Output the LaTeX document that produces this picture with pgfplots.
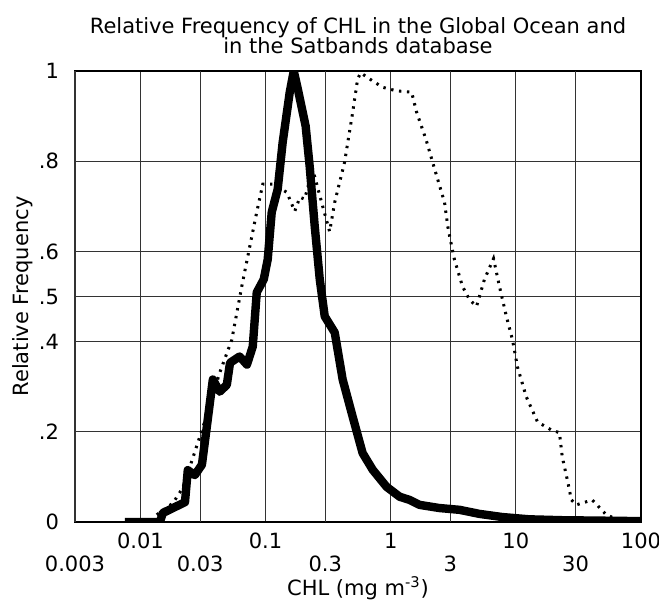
\documentclass[border=0pt]{standalone}
\usepackage{pgfplots}
\pgfplotsset{compat=1.18}
\usepackage{fontspec}
\setmainfont{DejaVu Sans}
\begin{document}
\begin{tikzpicture}
\begin{axis}[
  scale only axis, width=283pt, height=225.5pt,
  xmode=log, xmin=0.003, xmax=100, ymin=0, ymax=1,
  font=\fontsize{10.5}{12}\selectfont,
  /pgf/number format/assume math mode=true,
  xtick={0.01,0.1,1,10,100},
  xticklabels={0.01,0.1,1,10,100},
  extra x ticks={0.003,0.03,0.3,3,30},
  extra x tick labels={0.003,0.03,0.3,3,30},
  extra x tick style={grid=major, xticklabel style={yshift=-11.5pt}},
  xminorticks=false,
  ytick={0,0.2,0.4,0.5,0.6,0.8,1},
  yticklabels={0,.2,.4,.5,.6,.8,1},
  major tick length=0pt,
  grid=major,
  major grid style={black!80, line width=0.55pt},
  axis line style={line width=0.7pt},
  xticklabel style={yshift=-2pt},
  yticklabel style={xshift=-4.5pt},
  xlabel={CHL (mg m\textsuperscript{-3})},
  ylabel={Relative Frequency},
  xlabel style={yshift=4.5pt},
  ylabel style={yshift=-4pt},
  title={Relative Frequency of CHL in the Global Ocean and\\in the Satbands database},
  title style={align=center, font=\fontsize{10.5}{10.2}\selectfont, yshift=-1pt},
]
\addplot[black, line width=4.2pt, line join=round] coordinates {
(0.0075,0.0) (0.0143,0.0) (0.0151,0.02) (0.0182,0.031) (0.0227,0.044)
(0.0239,0.115) (0.0272,0.104) (0.031,0.127) (0.0345,0.227) (0.0379,0.316)
(0.043,0.289) (0.049,0.304) (0.052,0.353) (0.062,0.367) (0.071,0.349)
(0.079,0.389) (0.085,0.509) (0.0967,0.538) (0.104,0.582) (0.112,0.687)
(0.125,0.738) (0.137,0.842) (0.156,0.953) (0.168,1.0) (0.181,0.96)
(0.209,0.878) (0.225,0.789) (0.247,0.656) (0.271,0.538) (0.297,0.456)
(0.357,0.42) (0.413,0.316) (0.497,0.233) (0.596,0.153) (0.717,0.116)
(0.927,0.078) (1.18,0.056) (1.415,0.049) (1.70,0.038) (2.45,0.031)
(3.55,0.027) (5.12,0.018) (7.8,0.011) (12.8,0.006) (23.5,0.004) (100,0.002)
};
\addplot[black, line width=1.5pt, dash pattern=on 1.2pt off 2.8pt] coordinates {
(0.0135,0.016) (0.0182,0.042) (0.0218,0.076) (0.0262,0.142) (0.0315,0.209)
(0.043,0.331) (0.0537,0.404) (0.0645,0.522) (0.0748,0.611) (0.085,0.687)
(0.095,0.749) (0.114,0.749) (0.148,0.731) (0.171,0.689) (0.188,0.72)
(0.205,0.716) (0.238,0.782) (0.286,0.70) (0.325,0.644) (0.357,0.709)
(0.428,0.798) (0.497,0.909) (0.544,0.982) (0.575,0.996) (0.717,0.978)
(0.861,0.964) (1.11,0.956) (1.47,0.953) (1.61,0.909) (1.93,0.845)
(2.16,0.798) (2.69,0.709) (2.88,0.649) (3.23,0.582) (3.75,0.522)
(4.26,0.493) (4.85,0.478) (5.61,0.538) (6.63,0.584) (7.4,0.522)
(8.4,0.456) (9.4,0.404) (10.3,0.344) (12.1,0.278) (14.9,0.222)
(19.2,0.204) (22.3,0.198) (23.5,0.144) (25.8,0.093) (27.8,0.049)
(30.4,0.038) (40.8,0.049) (52.8,0.016) (67,0.004)
};
\end{axis}
\pgfresetboundingbox
\path ([shift={(-37.5pt,-40pt)}]current axis.south west) rectangle ++(329.5pt,301pt);
\end{tikzpicture}
\end{document}
